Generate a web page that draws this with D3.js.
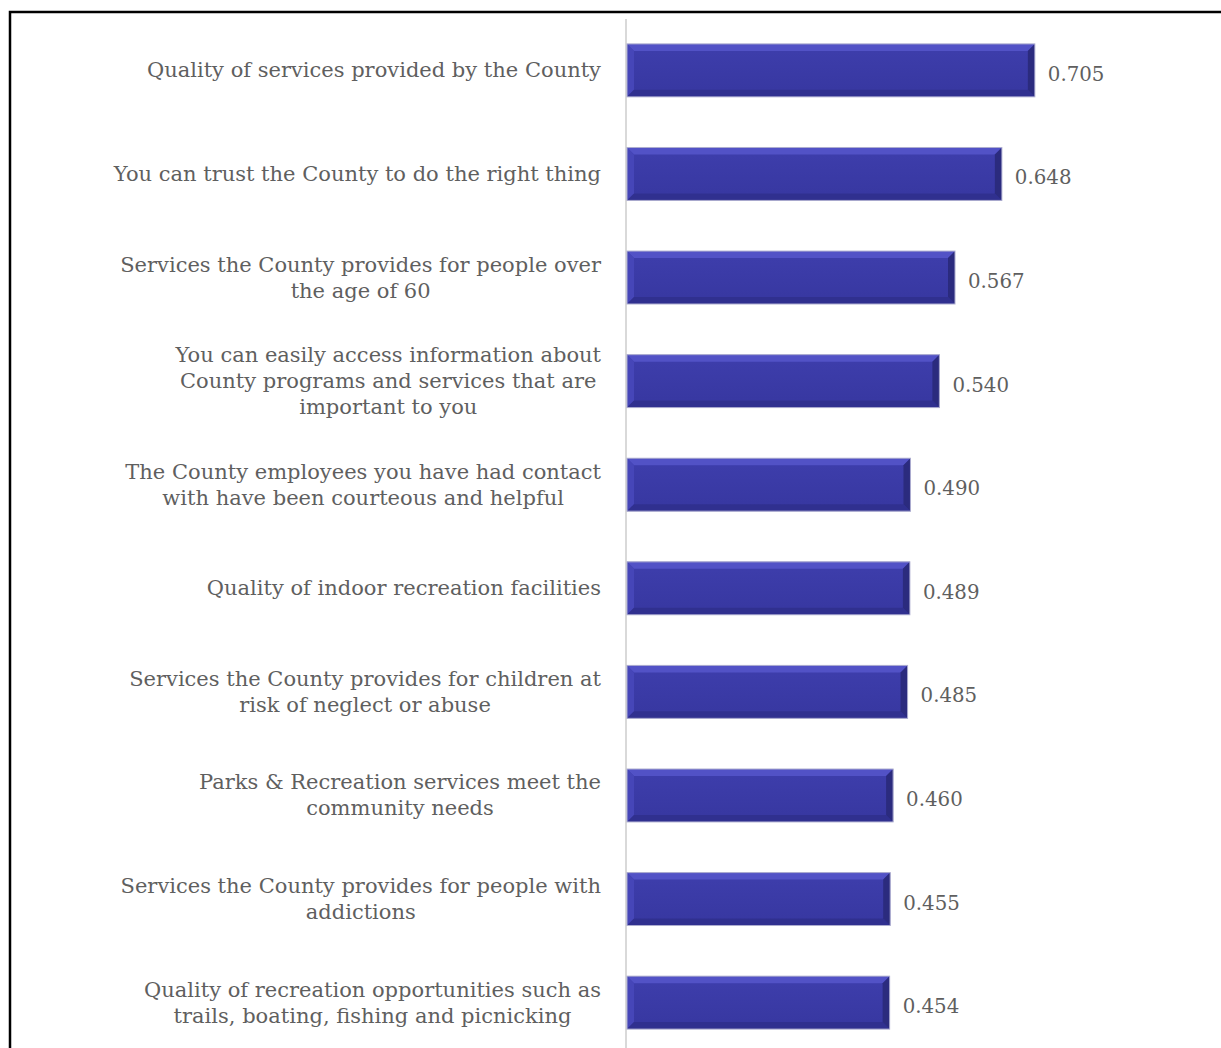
<!DOCTYPE html>
<html lang="en">
<head>
  <meta charset="UTF-8">
  <title>County ratings</title>
  <script src="https://d3js.org/d3.v7.min.js"></script>
  <style>
    body { margin: 0; background: white; }
    .cat, .val { font-family: "DejaVu Serif", serif; fill: #5f5f5f; }
  </style>
</head>
<body>
  <svg class="graph" width="1221" height="1048"></svg>
  <script>
    // label lines, broken the way the original wraps them
    const labels = [
      ["Quality of services provided by the County"],
      ["You can trust the County to do the right thing"],
      ["Services the County provides for people over", "the age of 60"],
      ["You can easily access information about", "County programs and services that are", "important to you"],
      ["The County employees you have had contact", "with have been courteous and helpful"],
      ["Quality of indoor recreation facilities"],
      ["Services the County provides for children at", "risk of neglect or abuse"],
      ["Parks & Recreation services meet the", "community needs"],
      ["Services the County provides for people with", "addictions"],
      ["Quality of recreation opportunities such as", "trails, boating, fishing and picnicking"]
    ];
    const values = [0.705, 0.648, 0.567, 0.540, 0.490, 0.489, 0.485, 0.460, 0.455, 0.454];

    const data = values.map((v, i) => ({ id: i, lines: labels[i], value: v }));

    const svg = d3.select('svg.graph');
    const x0 = 627;

    const xScale = d3.scaleLinear().domain([0, 1]).range([x0, x0 + 578.5]);
    const yScale = d3.scaleBand()
      .domain(data.map(d => d.id))
      .range([18, 1055])
      .paddingInner(0.489)
      .paddingOuter(0.25);

    // gradient for the bar face
    const defs = svg.append('defs');
    const g1 = defs.append('linearGradient').attr('id', 'body').attr('x1', 0).attr('y1', 0).attr('x2', 0).attr('y2', 1);
    g1.append('stop').attr('offset', '0%').attr('stop-color', '#3e3eac');
    g1.append('stop').attr('offset', '100%').attr('stop-color', '#3737a0');

    // outer frame
    svg.append('rect')
      .attr('x', 10).attr('y', 12)
      .attr('width', 1240).attr('height', 1100)
      .attr('fill', 'none')
      .attr('stroke', 'black')
      .attr('stroke-width', 2.5);

    // category axis line
    svg.append('line')
      .attr('x1', x0 - 1).attr('x2', x0 - 1)
      .attr('y1', 19).attr('y2', 1048)
      .attr('stroke', '#d9d9d9')
      .attr('stroke-width', 2);

    const bars = svg.append('g').selectAll('g').data(data).join('g');
    const bev = 7;

    bars.each(function (d) {
      const g = d3.select(this);
      const xa = xScale(0), xb = xScale(d.value);
      const ya = yScale(d.id), yb = ya + yScale.bandwidth();
      g.append('rect')
        .attr('x', xa).attr('y', ya)
        .attr('width', xb - xa).attr('height', yb - ya)
        .attr('fill', 'url(#body)');
      // top bevel
      g.append('polygon')
        .attr('points', [[xa, ya], [xb, ya], [xb - bev, ya + bev], [xa + bev, ya + bev]].join(' '))
        .attr('fill', '#5252c6');
      // left bevel
      g.append('polygon')
        .attr('points', [[xa, ya], [xa + bev, ya + bev], [xa + bev, yb - bev], [xa, yb]].join(' '))
        .attr('fill', '#4646b8');
      // bottom bevel
      g.append('polygon')
        .attr('points', [[xa, yb], [xa + bev, yb - bev], [xb - bev, yb - bev], [xb, yb]].join(' '))
        .attr('fill', '#30308f');
      // right bevel
      g.append('polygon')
        .attr('points', [[xb, ya], [xb, yb], [xb - bev, yb - bev], [xb - bev, ya + bev]].join(' '))
        .attr('fill', '#2b2b7e');
      g.append('rect')
        .attr('x', xa).attr('y', ya)
        .attr('width', xb - xa).attr('height', yb - ya)
        .attr('fill', 'none')
        .attr('stroke', '#aeaed0')
        .attr('stroke-width', 1);

      g.append('text')
        .attr('class', 'val')
        .attr('x', xb + 13)
        .attr('y', (ya + yb) / 2 + 4)
        .attr('dominant-baseline', 'central')
        .style('font-size', '19.8px')
        .text(d.value.toFixed(3));
    });

    // category labels: lines centred within a block that is right-aligned to the axis
    const right = 601, lh = 26;
    data.forEach(d => {
      const cy = yScale(d.id) + yScale.bandwidth() / 2;
      const t = svg.append('text')
        .attr('class', 'cat')
        .attr('text-anchor', 'middle')
        .style('font-size', '21px');
      const n = d.lines.length;
      const spans = d.lines.map((ln, i) => t.append('tspan')
        .attr('y', cy + (i - (n - 1) / 2) * lh)
        .attr('dominant-baseline', 'central')
        .text(ln));
      const w = d3.max(spans, s => s.node().getComputedTextLength());
      spans.forEach(s => s.attr('x', right - w / 2));
    });
  </script>
</body>
</html>
